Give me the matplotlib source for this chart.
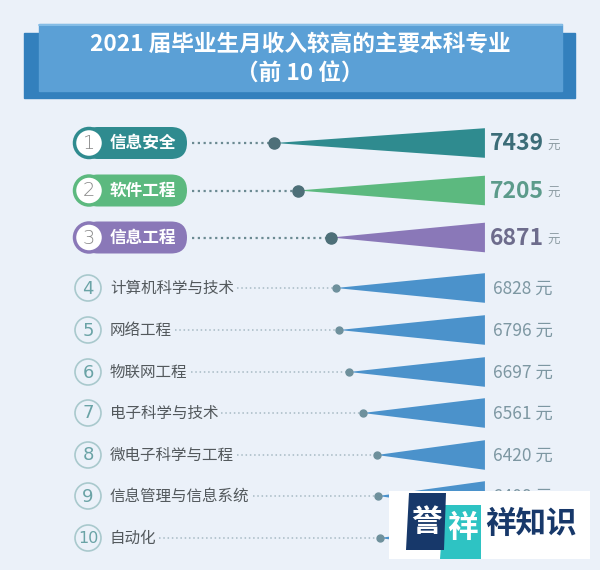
import matplotlib
matplotlib.use('Agg')
import matplotlib.pyplot as plt
from matplotlib.patches import Rectangle, FancyBboxPatch, Circle, Polygon

plt.rcParams['font.family'] = ['Noto Sans CJK SC', 'DejaVu Sans']

# ---------------- data ----------------
title_line1 = "2021 届毕业生月收入较高的主要本科专业"
title_line2 = "（前 10 位）"
ranks = [1, 2, 3, 4, 5, 6, 7, 8, 9, 10]
majors = ["信息安全", "软件工程", "信息工程", "计算机科学与技术", "网络工程",
          "物联网工程", "电子科学与技术", "微电子科学与工程", "信息管理与信息系统", "自动化"]
salaries = [7439, 7205, 6871, 6828, 6796, 6697, 6561, 6420, 6408, 6392]
unit = "元"

# ---------------- layout / style ----------------
row_y = [143, 190.5, 237.5, 288, 330, 372, 413, 455, 496, 538]
base_value = 5345          # value at which triangle base sits
value_xlim = (10166, 4201)  # reversed value axis
tri_half = 14.8
bg = '#ebf1f9'
top_colors = ['#2f8b8f', '#5cb97f', '#8a78b8']
top_value_colors = ['#3c6d78', '#5c9b8b', '#6d6c8c']
other_color = '#4b92cb'

fig = plt.figure(figsize=(6, 5.7), dpi=100)
fig.patch.set_facecolor(bg)

lay = fig.add_axes([0, 0, 1, 1], zorder=0)
lay.set_xlim(0, 600); lay.set_ylim(570, 0); lay.axis('off')
ax = fig.add_axes([0, 0, 1, 1], zorder=1)
ax.set_xlim(*value_xlim); ax.set_ylim(570, 0); ax.axis('off')
ax.patch.set_alpha(0)
top = fig.add_axes([0, 0, 1, 1], zorder=2)
top.set_xlim(0, 600); top.set_ylim(570, 0); top.axis('off')
top.patch.set_alpha(0)

# title banner
lay.add_patch(Rectangle((24, 33), 551, 65, color='#3380bd', zorder=1))
lay.add_patch(Rectangle((39, 24), 523, 67, color='#5ba0d6', zorder=2))
lay.plot([39, 562], [24.8, 24.8], color='#8ec3ea', lw=1.2, zorder=3)
lay.text(300, 44.5, title_line1, color='white', fontsize=16.3, fontweight='bold',
         ha='center', va='center', zorder=4)
lay.text(300, 74.5, title_line2, color='white', fontsize=16.3, fontweight='bold',
         ha='center', va='center', zorder=4)

renderer = fig.canvas.get_renderer()


def px_to_val(px, y):
    disp = lay.transData.transform((px, y))
    return ax.transData.inverted().transform(disp)[0]


for i, (r, name, val, y) in enumerate(zip(ranks, majors, salaries, row_y)):
    is_top = i < 3
    if is_top:
        col = top_colors[i]
        lay.add_patch(FancyBboxPatch((82, y - 16), 105, 32,
                                     boxstyle="round,pad=0,rounding_size=16",
                                     fc=col, ec='none', zorder=2))
        lay.add_patch(Circle((89, y), 14.5, fc='white', ec=col, lw=2.5, zorder=3))
        lay.text(89, y + 0.5, str(r), fontsize=14, color='#8a8a8a', ha='center',
                 va='center', zorder=4, family=['DejaVu Sans'], fontweight='light')
        lay.text(110, y, name, fontsize=12, color='white', fontweight='bold',
                 ha='left', va='center', zorder=4)
        line_start_px = 192
        dot_col = '#4d6f78'
        ax.plot([px_to_val(line_start_px, y), val], [y, y], color='#6b8a92',
                lw=1.6, ls=(0, (1, 1.6)), zorder=2)
        ax.add_patch(Polygon([(val, y), (base_value, y - tri_half), (base_value, y + tri_half)],
                             closed=True, fc=col, ec='none', zorder=3))
        ax.plot([val], [y], 'o', ms=8, color=dot_col, zorder=4)
        lay.text(490, y + 1, f"{val}", fontsize=16.5, fontweight='bold',
                 color=top_value_colors[i], ha='left', va='center')
        lay.text(547, y + 3, unit, fontsize=9, color='#8d9ca3', ha='left', va='center')
    else:
        lay.add_patch(Circle((88, y), 13, fc='none', ec='#a9c9cd', lw=1.2, zorder=3))
        lay.text(88, y + 0.5, str(r), fontsize=13 if r < 10 else 11.5, color='#6aa3a6',
                 ha='center', va='center', zorder=4, family=['DejaVu Sans'])
        t = lay.text(110, y, name, fontsize=11.2, color='#53595d', ha='left',
                     va='center', zorder=4)
        bb = t.get_window_extent(renderer=renderer)
        end_px = lay.transData.inverted().transform((bb.x1, bb.y0))[0] + 3
        ax.plot([px_to_val(end_px, y), val], [y, y], color='#a7bac4', lw=1.1,
                ls=(0, (1, 1.8)), zorder=2)
        ax.add_patch(Polygon([(val, y), (base_value, y - tri_half), (base_value, y + tri_half)],
                             closed=True, fc=other_color, ec='none', zorder=3))
        ax.plot([val], [y], 'o', ms=5, color='#6e909c', zorder=4)
        lay.text(493, y + 1, f"{val} {unit}", fontsize=12.5, color='#7d97a2',
                 ha='left', va='center')

# overlay logo (image watermark covering the last two values)
top.add_patch(Rectangle((389, 491), 201, 68, fc='white', ec='none'))
top.add_patch(Polygon([(444, 505), (481, 505), (481, 559), (440, 559)], closed=True,
                      fc='#2ec3c3', ec='none'))
top.add_patch(Polygon([(409, 493), (446, 493), (444, 550), (406, 550)], closed=True,
                      fc='#17386a', ec='none'))
top.text(426, 522, "誉", fontsize=22, fontweight='bold', color='white',
         ha='center', va='center')
top.text(462, 528, "祥", fontsize=22, fontweight='bold', color='white',
         ha='center', va='center')
top.text(531, 524, "祥知识", fontsize=22, fontweight='bold', color='#17386a',
         ha='center', va='center')

fig.savefig('out.png', dpi=100, facecolor=bg)
